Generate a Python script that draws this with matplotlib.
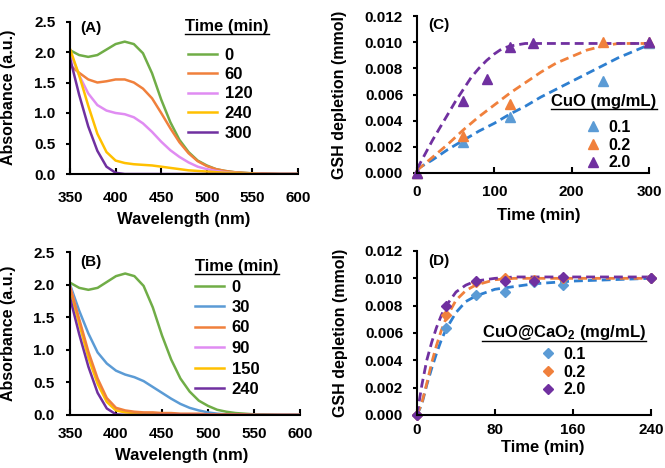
import matplotlib
matplotlib.use('Agg')
import matplotlib.pyplot as plt
from matplotlib.lines import Line2D
from matplotlib.ticker import FormatStrFormatter

plt.rcParams['font.family'] = ['Liberation Sans', 'DejaVu Sans']
plt.rcParams['font.weight'] = 'bold'
plt.rcParams['mathtext.fontset'] = 'custom'
plt.rcParams['mathtext.bf'] = 'Liberation Sans:bold'
plt.rcParams['mathtext.rm'] = 'Liberation Sans:bold'
plt.rcParams['mathtext.default'] = 'bf'

# colours (Excel-like)
GREEN = '#70AD47'
ORANGE = '#F0803C'
PINK = '#E08CF2'
YELLOW = '#FFC000'
PURPLE = '#7030A0'
BLUE = '#5B9BD5'
BLUE_FIT = '#2E7FD0'

# ---- panel A / B : UV-vis spectra ----
wl = [350, 360, 370, 380, 390, 400, 410, 420, 430, 440, 450, 460, 470,
      480, 490, 500, 510, 520, 530, 540, 550, 560, 580, 600]

abs_0 = [2.03, 1.95, 1.92, 1.95, 2.04, 2.13, 2.17, 2.13, 1.98, 1.65, 1.22, 0.85, 0.56,
         0.36, 0.22, 0.14, 0.08, 0.05, 0.03, 0.02, 0.01, 0.01, 0.0, 0.0]

a_times = ['0', '60', '120', '240', '300']
abs_a60 = [1.78, 1.66, 1.55, 1.50, 1.52, 1.55, 1.55, 1.50, 1.40, 1.24, 1.00, 0.75, 0.52,
           0.34, 0.21, 0.13, 0.08, 0.05, 0.03, 0.02, 0.01, 0.01, 0.0, 0.0]
abs_a120 = [2.00, 1.62, 1.32, 1.13, 1.04, 1.00, 0.98, 0.93, 0.83, 0.69, 0.53, 0.39, 0.28,
            0.19, 0.12, 0.08, 0.05, 0.03, 0.02, 0.01, 0.01, 0.0, 0.0, 0.0]
abs_a240 = [2.05, 1.62, 1.12, 0.66, 0.36, 0.22, 0.18, 0.16, 0.15, 0.14, 0.12, 0.10, 0.08,
            0.06, 0.05, 0.04, 0.03, 0.02, 0.02, 0.01, 0.01, 0.0, 0.0, 0.0]
abs_a300 = [1.90, 1.30, 0.78, 0.38, 0.12, 0.02, 0.0, 0.0, 0.0, 0.0, 0.0, 0.0, 0.0,
            0.0, 0.0, 0.0, 0.0, 0.0, 0.0, 0.0, 0.0, 0.0, 0.0, 0.0]

b_times = ['0', '30', '60', '90', '150', '240']
abs_b30 = [2.00, 1.60, 1.25, 0.96, 0.79, 0.68, 0.62, 0.58, 0.52, 0.43, 0.34, 0.25, 0.17,
           0.11, 0.07, 0.04, 0.02, 0.01, 0.01, 0.0, 0.0, 0.0, 0.0, 0.0]
abs_b60 = [1.97, 1.47, 0.97, 0.56, 0.26, 0.11, 0.07, 0.05, 0.04, 0.04, 0.03, 0.03, 0.02,
           0.02, 0.02, 0.01, 0.01, 0.01, 0.01, 0.01, 0.0, 0.0, 0.0, 0.0]
abs_b90 = [1.98, 1.44, 0.92, 0.51, 0.22, 0.08, 0.05, 0.04, 0.03, 0.02, 0.02, 0.02, 0.01,
           0.01, 0.01, 0.01, 0.0, 0.0, 0.0, 0.0, 0.0, 0.0, 0.0, 0.0]
abs_b150 = [1.93, 1.40, 0.88, 0.48, 0.20, 0.07, 0.04, 0.03, 0.02, 0.02, 0.01, 0.01, 0.01,
            0.01, 0.0, 0.0, 0.0, 0.0, 0.0, 0.0, 0.0, 0.0, 0.0, 0.0]
abs_b240 = [1.80, 1.24, 0.74, 0.34, 0.10, 0.01, 0.0, 0.0, 0.0, 0.0, 0.0, 0.0, 0.0,
            0.0, 0.0, 0.0, 0.0, 0.0, 0.0, 0.0, 0.0, 0.0, 0.0, 0.0]

# ---- panel C : CuO ----
c_doses = ['0.1', '0.2', '2.0']
c_t01 = [0, 60, 120, 240, 300]
c_y01 = [0.0, 0.0024, 0.0043, 0.0070, 0.0099]
c_t02 = [0, 60, 120, 240, 300]
c_y02 = [0.0, 0.0028, 0.0053, 0.0100, 0.0100]
c_t20 = [0, 60, 90, 120, 150, 300]
c_y20 = [0.0, 0.0055, 0.0072, 0.0096, 0.0099, 0.0100]

c_fit_t = [0, 20, 40, 60, 80, 100, 120, 140, 160, 180, 200, 220, 240, 260, 280, 300]
c_fit01 = [0.0003, 0.0010, 0.0018, 0.0025, 0.0032, 0.0038, 0.0045, 0.0051,
           0.0058, 0.0064, 0.0070, 0.0076, 0.0082, 0.0088, 0.0093, 0.0098]
c_fit02 = [0.0002, 0.0012, 0.0022, 0.0033, 0.0043, 0.0052, 0.0061, 0.0069,
           0.0077, 0.0084, 0.0089, 0.0094, 0.0097, 0.0099, 0.0099, 0.0099]
c_fit20_t = [0, 10, 20, 30, 40, 50, 60, 70, 80, 90, 100, 110, 120, 130, 140, 160, 300]
c_fit20 = [0.0003, 0.0014, 0.0025, 0.0035, 0.0045, 0.0055, 0.0064, 0.0073, 0.0080,
           0.0086, 0.0091, 0.0095, 0.0097, 0.0098, 0.0099, 0.0099, 0.0099]

# ---- panel D : CuO@CaO2 ----
d_t = [0, 30, 60, 90, 120, 150, 240]
d_y01 = [0.0, 0.0064, 0.0088, 0.0090, 0.0097, 0.0095, 0.0100]
d_y02 = [0.0, 0.0073, 0.0097, 0.0100, 0.0099, 0.0100, 0.0100]
d_y20 = [0.0, 0.0080, 0.0098, 0.0098, 0.0098, 0.0101, 0.0100]

d_fit_t = [0, 5, 10, 15, 20, 25, 30, 40, 50, 60, 80, 100, 120, 160, 200, 240]
d_fit01 = [0.0, 0.0008, 0.0022, 0.0034, 0.0045, 0.0055, 0.0063, 0.0075, 0.0083,
           0.0087, 0.0092, 0.0094, 0.0096, 0.0098, 0.0099, 0.0100]
d_fit02 = [0.0, 0.0009, 0.0023, 0.0038, 0.0051, 0.0062, 0.0071, 0.0084, 0.0091,
           0.0095, 0.0099, 0.0100, 0.0100, 0.0100, 0.0100, 0.0100]
d_fit20 = [0.0, 0.0022, 0.0040, 0.0053, 0.0064, 0.0073, 0.0080, 0.0090, 0.0095,
           0.0098, 0.0100, 0.0101, 0.0101, 0.0101, 0.0101, 0.0101]

W, H = 665, 468
fig = plt.figure(figsize=(W / 100, H / 100), dpi=100)


def px_axes(l, t, r, b):
    return fig.add_axes([l / W, 1 - b / H, (r - l) / W, (b - t) / H])


def style(ax, ypad, xpad):
    for s in ['top', 'right']:
        ax.spines[s].set_visible(False)
    for s in ['left', 'bottom']:
        ax.spines[s].set_linewidth(1.5)
    ax.tick_params(axis='y', direction='out', length=3, width=1.5, labelsize=11, pad=ypad)
    ax.tick_params(axis='x', direction='in', length=4, width=1.5, labelsize=11, pad=xpad)


def titled(x, y, s, ha, gap):
    # legend title written as text, underlined as in the original
    t = fig.text(x / W, 1 - y / H, s, ha=ha, va='baseline', fontsize=12, fontweight='bold')
    fig.canvas.draw()
    bb = t.get_window_extent(fig.canvas.get_renderer())
    yy = 1 - (y + gap) / H
    fig.add_artist(Line2D([bb.x0 / W, bb.x1 / W], [yy, yy], color='black', lw=1.0))


def entries(ax, handles, labels, x, y, fs, hl, sp):
    return ax.legend(handles, labels, loc='upper left', bbox_to_anchor=(x / W, 1 - y / H),
                     bbox_transform=fig.transFigure, frameon=False, fontsize=fs,
                     handlelength=hl, handletextpad=0.45, labelspacing=sp,
                     borderpad=0, borderaxespad=0, numpoints=1)


# ---------- (A) ----------
axA = px_axes(70, 21.5, 298, 174)
style(axA, 7.5, 12)
for ys, c in zip([abs_0, abs_a60, abs_a120, abs_a240, abs_a300],
                 [GREEN, ORANGE, PINK, YELLOW, PURPLE]):
    axA.plot(wl, ys, color=c, lw=1.8)
axA.set_xlim(350, 600)
axA.set_ylim(0, 2.5)
axA.set_xticks(range(350, 601, 50))
axA.set_yticks([0, 0.5, 1.0, 1.5, 2.0, 2.5])
axA.yaxis.set_major_formatter(FormatStrFormatter('%.1f'))
axA.set_xlabel('Wavelength (nm)', fontsize=12, fontweight='bold')
axA.set_ylabel('Absorbance (a.u.)', fontsize=11.5, fontweight='bold')
axA.xaxis.set_label_coords(0.5, -0.252)
axA.yaxis.set_label_coords(-0.235, 0.5)
axA.text(0.045, 0.96, '(A)', transform=axA.transAxes, fontsize=11, va='center')
hA = [Line2D([], [], color=c, lw=1.8) for c in [GREEN, ORANGE, PINK, YELLOW, PURPLE]]
entries(axA, hA, a_times, 188, 47.5, 12, 1.75, 0.27)
titled(185, 31, 'Time (min)', 'left', 2.5)

# ---------- (B) ----------
axB = px_axes(70, 252, 300, 415)
style(axB, 8, 8.5)
for ys, c in zip([abs_0, abs_b30, abs_b90, abs_b150, abs_b60, abs_b240],
                 [GREEN, BLUE, PINK, YELLOW, ORANGE, PURPLE]):
    axB.plot(wl, ys, color=c, lw=1.8)
axB.set_xlim(350, 600)
axB.set_ylim(0, 2.5)
axB.set_xticks(range(350, 601, 50))
axB.set_yticks([0, 0.5, 1.0, 1.5, 2.0, 2.5])
axB.yaxis.set_major_formatter(FormatStrFormatter('%.1f'))
axB.set_xlabel('Wavelength (nm)', fontsize=12, fontweight='bold')
axB.set_ylabel('Absorbance (a.u.)', fontsize=11.5, fontweight='bold')
axB.xaxis.set_label_coords(0.486, -0.2)
axB.yaxis.set_label_coords(-0.233, 0.5)
axB.text(0.045, 0.94, '(B)', transform=axB.transAxes, fontsize=11, va='center')
hB = [Line2D([], [], color=c, lw=1.8) for c in [GREEN, BLUE, ORANGE, PINK, YELLOW, PURPLE]]
entries(axB, hB, b_times, 195, 279.5, 12, 1.75, 0.33)
titled(195, 271, 'Time (min)', 'left', 2.5)

# ---------- (C) ----------
dash = (3.2, 1.8)
axC = px_axes(417, 16, 649, 173)
style(axC, 7, 9)
axC.plot(c_fit_t, c_fit01, color=BLUE_FIT, lw=2, dashes=dash)
axC.plot(c_fit_t, c_fit02, color=ORANGE, lw=2, dashes=dash)
axC.plot(c_fit20_t, c_fit20, color=PURPLE, lw=2, dashes=dash)
mC = []
for t, y, c in zip([c_t01, c_t02, c_t20], [c_y01, c_y02, c_y20], [BLUE, ORANGE, PURPLE]):
    m, = axC.plot(t, y, linestyle='none', marker='^', ms=7, color=c, clip_on=False)
    mC.append(m)
axC.set_xlim(0, 300)
axC.set_ylim(0, 0.012)
axC.set_xticks([0, 100, 200, 300])
axC.set_yticks([0, 0.002, 0.004, 0.006, 0.008, 0.010, 0.012])
axC.yaxis.set_major_formatter(FormatStrFormatter('%.3f'))
axC.set_xlabel('Time (min)', fontsize=12, fontweight='bold')
axC.set_ylabel('GSH depletion (mmol)', fontsize=11.5, fontweight='bold')
axC.xaxis.set_label_coords(0.524, -0.224)
axC.yaxis.set_label_coords(-0.302, 0.5)
axC.text(0.05, 0.94, '(C)', transform=axC.transAxes, fontsize=11, va='center')
entries(axC, mC, c_doses, 585, 120, 11.5, 1.0, 0.17)
titled(604, 106, 'CuO (mg/mL)', 'center', 2.5)

# ---------- (D) ----------
axD = px_axes(417, 251, 651, 415)
style(axD, 7, 5.5)
axD.plot(d_fit_t, d_fit01, color=BLUE_FIT, lw=2, dashes=dash)
axD.plot(d_fit_t, d_fit02, color=ORANGE, lw=2, dashes=dash)
axD.plot(d_fit_t, d_fit20, color=PURPLE, lw=2, dashes=dash)
mD = []
for y, c in zip([d_y01, d_y02, d_y20], [BLUE, ORANGE, PURPLE]):
    m, = axD.plot(d_t, y, linestyle='none', marker='D', ms=5.5, color=c, clip_on=False)
    mD.append(m)
axD.set_xlim(0, 240)
axD.set_ylim(0, 0.012)
axD.set_xticks([0, 80, 160, 240])
axD.set_yticks([0, 0.002, 0.004, 0.006, 0.008, 0.010, 0.012])
axD.yaxis.set_major_formatter(FormatStrFormatter('%.3f'))
axD.set_xlabel('Time (min)', fontsize=12, fontweight='bold')
axD.set_ylabel('GSH depletion (mmol)', fontsize=11.5, fontweight='bold')
axD.xaxis.set_label_coords(0.538, -0.154)
axD.yaxis.set_label_coords(-0.297, 0.5)
axD.text(0.05, 0.94, '(D)', transform=axD.transAxes, fontsize=11, va='center')
entries(axD, mD, c_doses, 540, 347, 11.5, 1.0, 0.17)
titled(564, 337, 'CuO@CaO$_2$ (mg/mL)', 'center', 4)

fig.savefig('out.png', dpi=100)
